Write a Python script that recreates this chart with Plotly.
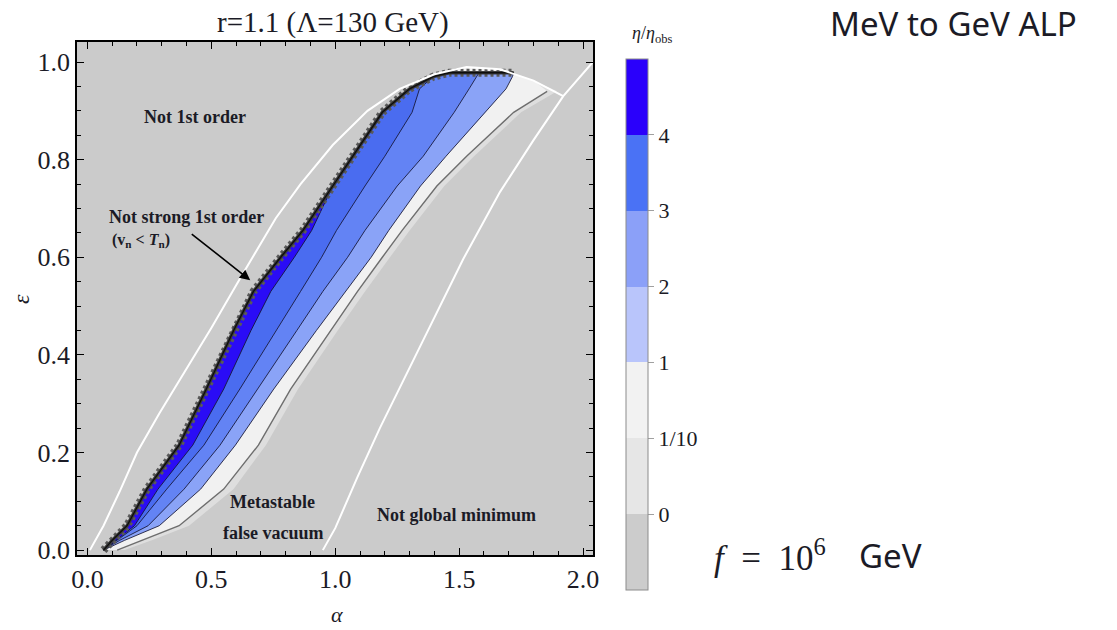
import plotly.graph_objects as go

# ---------------------------------------------------------------- data
# Boundary of the first-order transition region (white curve)
alpha_first_order = [0.01, 0.065, 0.13, 0.20, 0.29, 0.375, 0.50, 0.62, 0.76, 0.86, 0.99, 1.13, 1.26, 1.40, 1.53, 1.665, 1.80, 1.92]
eps_first_order = [0.00, 0.050, 0.12, 0.20, 0.28, 0.350, 0.455, 0.56, 0.68, 0.75, 0.83, 0.90, 0.945, 0.975, 0.99, 0.985, 0.962, 0.93]

# Boundary beyond which the electroweak vacuum is not the global minimum
alpha_global = [0.95, 1.00, 1.09, 1.18, 1.35, 1.516, 1.665, 1.80, 1.92, 2.04]
eps_global = [0.00, 0.045, 0.15, 0.25, 0.425, 0.596, 0.734, 0.84, 0.93, 1.00]

# Contours of eta/eta_obs inside the strongly first-order region
eps_levels = [0.0, 0.02, 0.05, 0.125, 0.215, 0.33, 0.45, 0.53, 0.60, 0.655, 0.746, 0.807, 0.897, 0.945, 0.97, 0.978]
alpha_strong = [0.065, 0.10, 0.16, 0.24, 0.37, 0.48, 0.59, 0.67, 0.78, 0.87, 0.99, 1.07, 1.19, 1.30, 1.395, 1.46]
alpha_eta4 = [0.065, 0.115, 0.19, 0.285, 0.425, 0.55, 0.66, 0.74, 0.835, 0.905, 0.99, 1.07, 1.19, 1.30, 1.395, 1.46]
alpha_eta3 = [0.065, 0.12, 0.20, 0.32, 0.47, 0.615, 0.76, 0.86, 0.945, 1.005, 1.12, 1.20, 1.31, 1.34, 1.395, 1.46]
alpha_eta2 = [0.065, 0.13, 0.245, 0.39, 0.535, 0.685, 0.845, 0.95, 1.05, 1.12, 1.25, 1.355, 1.48, 1.54, 1.57, 1.58]
alpha_eta1 = [0.065, 0.15, 0.29, 0.457, 0.597, 0.752, 0.924, 1.042, 1.145, 1.216, 1.344, 1.447, 1.606, 1.689, 1.715, 1.72]

eps_light = [0.0, 0.02, 0.05, 0.125, 0.215, 0.33, 0.45, 0.53, 0.60, 0.655, 0.746, 0.807, 0.897, 0.94]
alpha_eta_tenth = [0.12, 0.22, 0.37, 0.55, 0.69, 0.82, 0.98, 1.09, 1.19, 1.27, 1.41, 1.53, 1.72, 1.855]
alpha_eta_zero = [0.15, 0.26, 0.41, 0.59, 0.72, 0.85, 1.01, 1.12, 1.22, 1.30, 1.44, 1.56, 1.75, 1.895]

x_ticks = [0.0, 0.5, 1.0, 1.5, 2.0]
y_ticks = [0.0, 0.2, 0.4, 0.6, 0.8, 1.0]
cbar_labels = ["0", "1/10", "1", "2", "3", "4"]

# ---------------------------------------------------------------- style
SERIF = "Liberation Serif, Times New Roman, serif"
SANS = "Noto Sans, Open Sans, sans-serif"
INK = "#1b1b26"
BG = "#cbcbcb"

band_colors = {
    "zero": "#dedede",
    "tenth": "#f1f1f1",
    "eta1": "#8aa3f7",
    "eta2": "#6383f4",
    "eta3": "#4a6cf0",
    "eta4": "#2a0cf6",
}
cbar_colors = ["#cccccc", "#e6e6e6", "#f2f2f2", "#b9c5fb", "#8ba0f8", "#4a72f5", "#2a00fb"]

W, H = 1117, 630
L, R, T, B = 77, 593, 42, 555


def px(x):
    return (x - L) / (R - L)


def py(y):
    return (B - y) / (B - T)


def region(left_a, left_e, right_a, right_e, use_arc):
    xs, ys = list(left_a), list(left_e)
    if use_arc:
        for a, e in zip(alpha_first_order, eps_first_order):
            if left_a[-1] < a < right_a[-1]:
                xs.append(a)
                ys.append(e)
    xs += list(right_a)[::-1]
    ys += list(right_e)[::-1]
    return xs, ys


fig = go.Figure()


def fill(xs, ys, color):
    fig.add_trace(go.Scatter(x=xs, y=ys, mode="lines", fill="toself", fillcolor=color,
                             line=dict(width=0), hoverinfo="skip", showlegend=False))


def line(xs, ys, color, width, dash="solid"):
    fig.add_trace(go.Scatter(x=xs, y=ys, mode="lines", line=dict(color=color, width=width, dash=dash),
                             hoverinfo="skip", showlegend=False))


# filled eta/eta_obs regions, painted from the outermost inwards
fill(*region(alpha_strong, eps_levels, alpha_eta_zero, eps_light, True), band_colors["zero"])
fill(*region(alpha_strong, eps_levels, alpha_eta_tenth, eps_light, True), band_colors["tenth"])
fill(*region(alpha_strong, eps_levels, alpha_eta1, eps_levels, False), band_colors["eta1"])
fill(*region(alpha_strong, eps_levels, alpha_eta2, eps_levels, False), band_colors["eta2"])
fill(*region(alpha_strong, eps_levels, alpha_eta3, eps_levels, False), band_colors["eta3"])
fill(*region(alpha_strong, eps_levels, alpha_eta4, eps_levels, False), band_colors["eta4"])

# contour lines
line(alpha_eta_tenth, eps_light, "#6e6e6e", 1.4)
for a in (alpha_eta4, alpha_eta3, alpha_eta2, alpha_eta1):
    line(a, eps_levels, "rgba(20,20,50,0.85)", 1)

# ragged edge of the strongly first-order region
edge_a = alpha_strong + [alpha_eta1[-1]]
edge_e = eps_levels + [eps_levels[-1]]
line(edge_a, edge_e, "#5a5a5a", 8, dash="3px,3px")
line(edge_a, edge_e, "#3c3c3c", 3.5)
line(edge_a, edge_e, "#0d0d0d", 1.3)

# white phase boundaries
line(alpha_first_order, eps_first_order, "white", 2)
line(alpha_global, eps_global, "white", 2)

# discrete colour bar for eta/eta_obs
n = len(cbar_colors)
cscale = []
for i, c in enumerate(cbar_colors):
    cscale.append([i / n, c])
    cscale.append([(i + 1) / n, c])
fig.add_trace(go.Scatter(
    x=[None], y=[None], mode="markers", showlegend=False, hoverinfo="skip",
    marker=dict(color=[0.5], cmin=0, cmax=n, colorscale=cscale, showscale=True,
                colorbar=dict(
                    x=px(626), xanchor="left", y=py(59), yanchor="top",
                    len=531, lenmode="pixels", thickness=22, thicknessmode="pixels",
                    xpad=0, ypad=0, outlinewidth=1, outlinecolor="#8c8c8c",
                    tickvals=list(range(1, n)), ticktext=cbar_labels,
                    ticks="outside", ticklen=6, tickcolor="#a0a0a0",
                    tickfont=dict(family=SERIF, size=22, color=INK),
                )),
))

axis_common = dict(
    showgrid=False, zeroline=False, showline=True, linecolor="black", linewidth=1.5,
    mirror="allticks", ticks="inside", ticklen=7, tickwidth=1.2, tickcolor="black",
    tickfont=dict(family=SERIF, size=26, color=INK),
)
fig.update_xaxes(range=[-0.042, 2.04], tickvals=x_ticks, tickformat=".1f",
                 minor=dict(dtick=0.1, tick0=0, ticks="inside", ticklen=4, tickcolor="black"),
                 **axis_common)
fig.update_yaxes(range=[-0.01, 1.041], tickvals=y_ticks, tickformat=".1f",
                 minor=dict(dtick=0.05, tick0=0, ticks="inside", ticklen=4, tickcolor="black"),
                 **axis_common)

ann = []


def text(x, y, s, size, family=SERIF, ref="data", **kw):
    d = dict(x=x, y=y, text=s, showarrow=False, xanchor="center", yanchor="middle",
             font=dict(family=family, size=size, color=INK))
    if ref == "paper":
        d.update(xref="paper", yref="paper")
    else:
        d.update(xref="x", yref="y")
    d.update(kw)
    ann.append(d)


# region labels
text(0.435, 0.887, "<b>Not 1st order</b>", 18)
text(0.40, 0.682, "<b>Not strong 1st order</b>", 18)
text(0.093, 0.635, "<b>(v<sub>n</sub> &lt; <i>T</i><sub>n</sub>)</b>", 16, xanchor="left")
text(0.746, 0.098, "<b>Metastable</b>", 18)
text(0.75, 0.035, "<b>false vacuum</b>", 18)
text(1.488, 0.072, "<b>Not global minimum</b>", 18)
ann.append(dict(x=0.657, y=0.553, ax=0.415, ay=0.65, xref="x", yref="y", axref="x", ayref="y",
                text="", showarrow=True, arrowhead=2, arrowsize=1.3, arrowwidth=1.6,
                arrowcolor="black"))

# titles and axis labels
text(px(333), py(22), "r=1.1 (Λ=130 GeV)", 29, ref="paper")
text(px(337), py(614), "<i>α</i>", 22, ref="paper")
text(px(21), py(299), "<i>ε</i>", 24, ref="paper", textangle=-90)
text(px(652), py(34), "<i>η</i>/<i>η</i><sub>obs</sub>", 18, ref="paper")
text(px(828), py(23), "MeV to GeV ALP", 33, family=SANS, ref="paper", xanchor="left")
text(px(712), py(555), "<i>f</i>&nbsp;&nbsp;=&nbsp;&nbsp;10<sup>6</sup>", 35, ref="paper", xanchor="left")
text(px(857), py(555), "GeV", 33, family=SANS, ref="paper", xanchor="left")

fig.update_layout(
    width=W, height=H,
    margin=dict(l=L, r=W - R, t=T, b=H - B, pad=0),
    paper_bgcolor="white", plot_bgcolor=BG,
    annotations=ann, showlegend=False,
)

fig.write_html("out.html")
